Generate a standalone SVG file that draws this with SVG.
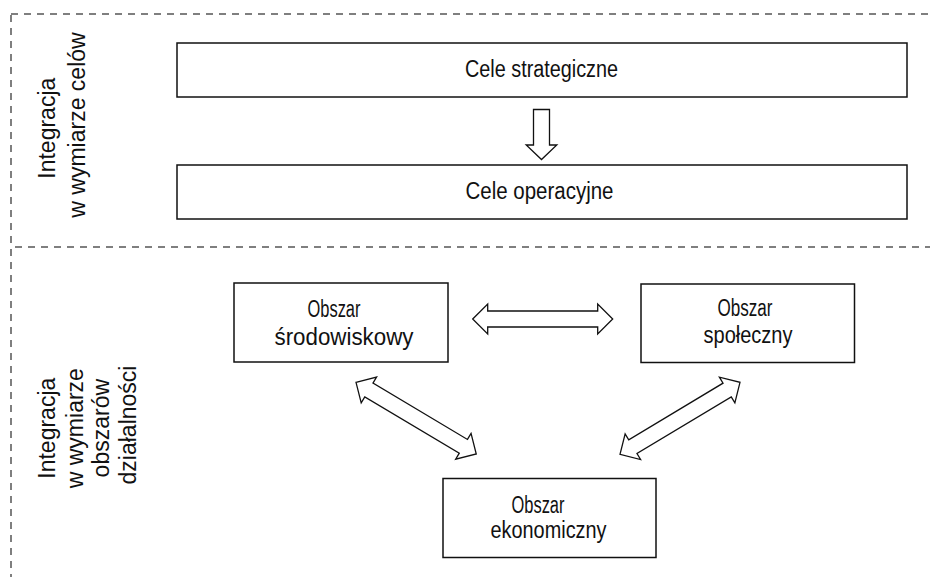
<svg xmlns="http://www.w3.org/2000/svg" width="934" height="577" viewBox="0 0 934 577">
  <defs>
    <style>
      .frame { fill: none; stroke: #555; stroke-width: 1.5; stroke-dasharray: 7 6; }
      .box { fill: #fff; stroke: #111; stroke-width: 1.5; }
      .arrow { fill: #fff; stroke: #111; stroke-width: 1.3; stroke-linejoin: miter; }
      .lbl { font-family: "Liberation Sans", Arial, sans-serif; font-size: 23px; fill: #111; text-anchor: middle; }
      .side { font-family: "Liberation Sans", Arial, sans-serif; font-size: 23px; fill: #111; text-anchor: middle; }
    </style>
    <!-- hollow double-headed arrow, 140 long, pointing along +x -->
    <path id="dbl" d="M0,0 L15,-15 L15,-8 L125,-8 L125,-15 L140,0 L125,15 L125,8 L15,8 L15,15 Z"/>
  </defs>

  <rect width="934" height="577" fill="#fff"/>

  <!-- section frames -->
  <g id="frames">
    <line class="frame" x1="11" y1="14" x2="930" y2="14"/>
    <line class="frame" x1="15" y1="247" x2="930" y2="247"/>
    <line class="frame" x1="11" y1="15" x2="11" y2="577"/>
  </g>

  <!-- section labels -->
  <g id="label-goals">
    <text class="side" transform="translate(0,125) rotate(-90)">
      <tspan x="0" y="55">Integracja</tspan>
      <tspan x="0" y="85">w wymiarze celów</tspan>
    </text>
  </g>
  <g id="label-areas">
    <text class="side" transform="translate(0,425) rotate(-90)">
      <tspan x="0" y="55">Integracja</tspan>
      <tspan x="0" y="83">w wymiarze</tspan>
      <tspan x="0" y="109">obszarów</tspan>
      <tspan x="0" y="136">działalności</tspan>
    </text>
  </g>

  <!-- nodes -->
  <g id="cele-strategiczne">
    <rect class="box" x="177" y="43" width="730" height="54"/>
    <text class="lbl" x="541.5" y="77" textLength="153" lengthAdjust="spacingAndGlyphs">Cele strategiczne</text>
  </g>
  <g id="cele-operacyjne">
    <rect class="box" x="177" y="165" width="730" height="54"/>
    <text class="lbl" x="539.5" y="199" textLength="148" lengthAdjust="spacingAndGlyphs">Cele operacyjne</text>
  </g>
  <g id="obszar-srodowiskowy">
    <rect class="box" x="234" y="283" width="214" height="79"/>
    <text class="lbl" x="334" y="317" textLength="53" lengthAdjust="spacingAndGlyphs">Obszar</text>
    <text class="lbl" x="344" y="345" textLength="139" lengthAdjust="spacingAndGlyphs">środowiskowy</text>
  </g>
  <g id="obszar-spoleczny">
    <rect class="box" x="641" y="284" width="213.5" height="78.5"/>
    <text class="lbl" x="745" y="316" textLength="55" lengthAdjust="spacingAndGlyphs">Obszar</text>
    <text class="lbl" x="748" y="343" textLength="89" lengthAdjust="spacingAndGlyphs">społeczny</text>
  </g>
  <g id="obszar-ekonomiczny">
    <rect class="box" x="443" y="478.5" width="213" height="79"/>
    <text class="lbl" x="538" y="512.5" textLength="53" lengthAdjust="spacingAndGlyphs">Obszar</text>
    <text class="lbl" x="548.5" y="538" textLength="116" lengthAdjust="spacingAndGlyphs">ekonomiczny</text>
  </g>

  <!-- connectors -->
  <g id="connectors">
    <path class="arrow" d="M533.5,109.5 L549.5,109.5 L549.5,145 L556.8,145 L541.5,159.5 L526.2,145 L533.5,145 Z"/>
    <use class="arrow" href="#dbl" transform="translate(472.7,319)"/>
    <use class="arrow" href="#dbl" transform="translate(356,382.3) rotate(30.8)"/>
    <use class="arrow" href="#dbl" transform="translate(620,454.4) rotate(-31)"/>
  </g>
</svg>
